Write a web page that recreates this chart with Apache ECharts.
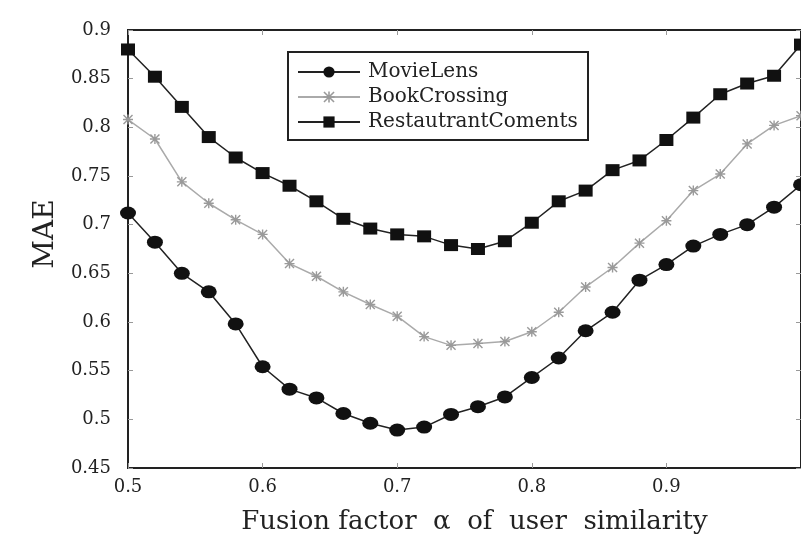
<!DOCTYPE html>
<html>
<head>
<meta charset="utf-8">
<script src="https://cdn.jsdelivr.net/npm/echarts@6/dist/echarts.min.js"></script>
<style>
  html, body { margin: 0; padding: 0; background: #fff; }
  #chart { width: 801px; height: 540px; }
</style>
</head>
<body>
<div id="chart"></div>
<script>
// Fusion factor alpha, sampled every 0.02
const alphaValues = [0.50, 0.52, 0.54, 0.56, 0.58, 0.60, 0.62, 0.64, 0.66, 0.68,
                     0.70, 0.72, 0.74, 0.76, 0.78, 0.80, 0.82, 0.84, 0.86, 0.88,
                     0.90, 0.92, 0.94, 0.96, 0.98, 1.00];

// MAE per dataset
const movieLensMAE = [0.712, 0.682, 0.650, 0.631, 0.598, 0.554, 0.531, 0.522, 0.506, 0.496,
                      0.489, 0.492, 0.505, 0.513, 0.523, 0.543, 0.563, 0.591, 0.610, 0.643,
                      0.659, 0.678, 0.690, 0.700, 0.718, 0.741];
const bookCrossingMAE = [0.808, 0.788, 0.744, 0.722, 0.705, 0.690, 0.660, 0.647, 0.631, 0.618,
                         0.606, 0.585, 0.576, 0.578, 0.580, 0.590, 0.610, 0.636, 0.656, 0.681,
                         0.704, 0.735, 0.752, 0.783, 0.802, 0.812];
const restaurantMAE = [0.880, 0.852, 0.821, 0.790, 0.769, 0.753, 0.740, 0.724, 0.706, 0.696,
                       0.690, 0.688, 0.679, 0.675, 0.683, 0.702, 0.724, 0.735, 0.756, 0.766,
                       0.787, 0.810, 0.834, 0.845, 0.853, 0.885];

const seriesNames = ['MovieLens', 'BookCrossing', 'RestautrantComents'];

const FONT = 'DejaVu Serif';
const toPairs = ys => alphaValues.map((x, i) => [x, ys[i]]);

// asterisk-like marker
const asteriskPath = 'path://M4.3,0 L5.7,0 L5.7,10 L4.3,10 Z M0,4.3 L10,4.3 L10,5.7 L0,5.7 Z ' +
  'M1.0,0.0 L10.0,9.0 L9.0,10.0 L0.0,1.0 Z M9.0,0.0 L10.0,1.0 L1.0,10.0 L0.0,9.0 Z';

const chart = echarts.init(document.getElementById('chart'), null, { renderer: 'canvas' });

const tickStyle = { show: true, inside: true, length: 5, lineStyle: { color: '#999', width: 1 } };
const frameLine = { show: true, onZero: false, lineStyle: { color: '#222', width: 2 } };

chart.setOption({
  backgroundColor: '#fff',
  animation: false,
  grid: { left: 128, right: 0, top: 30, bottom: 70, show: true, borderColor: '#222', borderWidth: 2 },
  legend: {
    orient: 'vertical',
    left: 292,
    top: 57,
    itemGap: 5,
    itemWidth: 62,
    itemHeight: 14,
    textStyle: { fontFamily: FONT, fontSize: 20, color: '#222', padding: [0, 0, 0, 3] },
    data: seriesNames
  },
  graphic: [{
    type: 'rect',
    shape: { x: 288, y: 52, width: 300, height: 88 },
    style: { fill: 'rgba(0,0,0,0)', stroke: '#222', lineWidth: 2 },
    z: 10
  }],
  xAxis: [{
    type: 'value',
    min: 0.5, max: 1.0, interval: 0.1,
    name: 'Fusion factor  α  of  user  similarity',
    nameLocation: 'middle',
    nameGap: 41,
    nameTextStyle: { fontFamily: FONT, fontSize: 26, color: '#222', padding: [0, 0, 0, 20] },
    axisLine: frameLine,
    axisTick: tickStyle,
    splitLine: { show: false },
    axisLabel: { fontFamily: FONT, fontSize: 18, color: '#222', margin: 10, showMaxLabel: false }
  }, {
    type: 'value', position: 'top',
    min: 0.5, max: 1.0, interval: 0.1,
    axisLine: frameLine, axisTick: tickStyle,
    axisLabel: { show: false }, splitLine: { show: false }
  }],
  yAxis: [{
    type: 'value',
    min: 0.45, max: 0.9, interval: 0.05,
    name: 'MAE',
    nameLocation: 'middle',
    nameGap: 68,
    nameTextStyle: { fontFamily: FONT, fontSize: 28, color: '#222', padding: [0, 0, 0, 30] },
    axisLine: frameLine,
    axisTick: tickStyle,
    splitLine: { show: false },
    axisLabel: { fontFamily: FONT, fontSize: 18, color: '#222', margin: 17 }
  }, {
    type: 'value', position: 'right',
    min: 0.45, max: 0.9, interval: 0.05,
    axisLine: frameLine, axisTick: tickStyle,
    axisLabel: { show: false }, splitLine: { show: false }
  }],
  series: [{
    name: seriesNames[0],
    type: 'line',
    data: toPairs(movieLensMAE),
    symbol: 'circle',
    symbolSize: [16, 13],
    lineStyle: { color: '#222', width: 1.5 },
    itemStyle: { color: '#111' },
    z: 3
  }, {
    name: seriesNames[1],
    type: 'line',
    data: toPairs(bookCrossingMAE),
    symbol: asteriskPath,
    symbolSize: 10,
    lineStyle: { color: '#aaa', width: 1.5 },
    itemStyle: { color: '#9a9a9a' },
    z: 2
  }, {
    name: seriesNames[2],
    type: 'line',
    data: toPairs(restaurantMAE),
    symbol: 'rect',
    symbolSize: [14, 12],
    lineStyle: { color: '#222', width: 1.5 },
    itemStyle: { color: '#111' },
    z: 3
  }]
});
</script>
</body>
</html>
